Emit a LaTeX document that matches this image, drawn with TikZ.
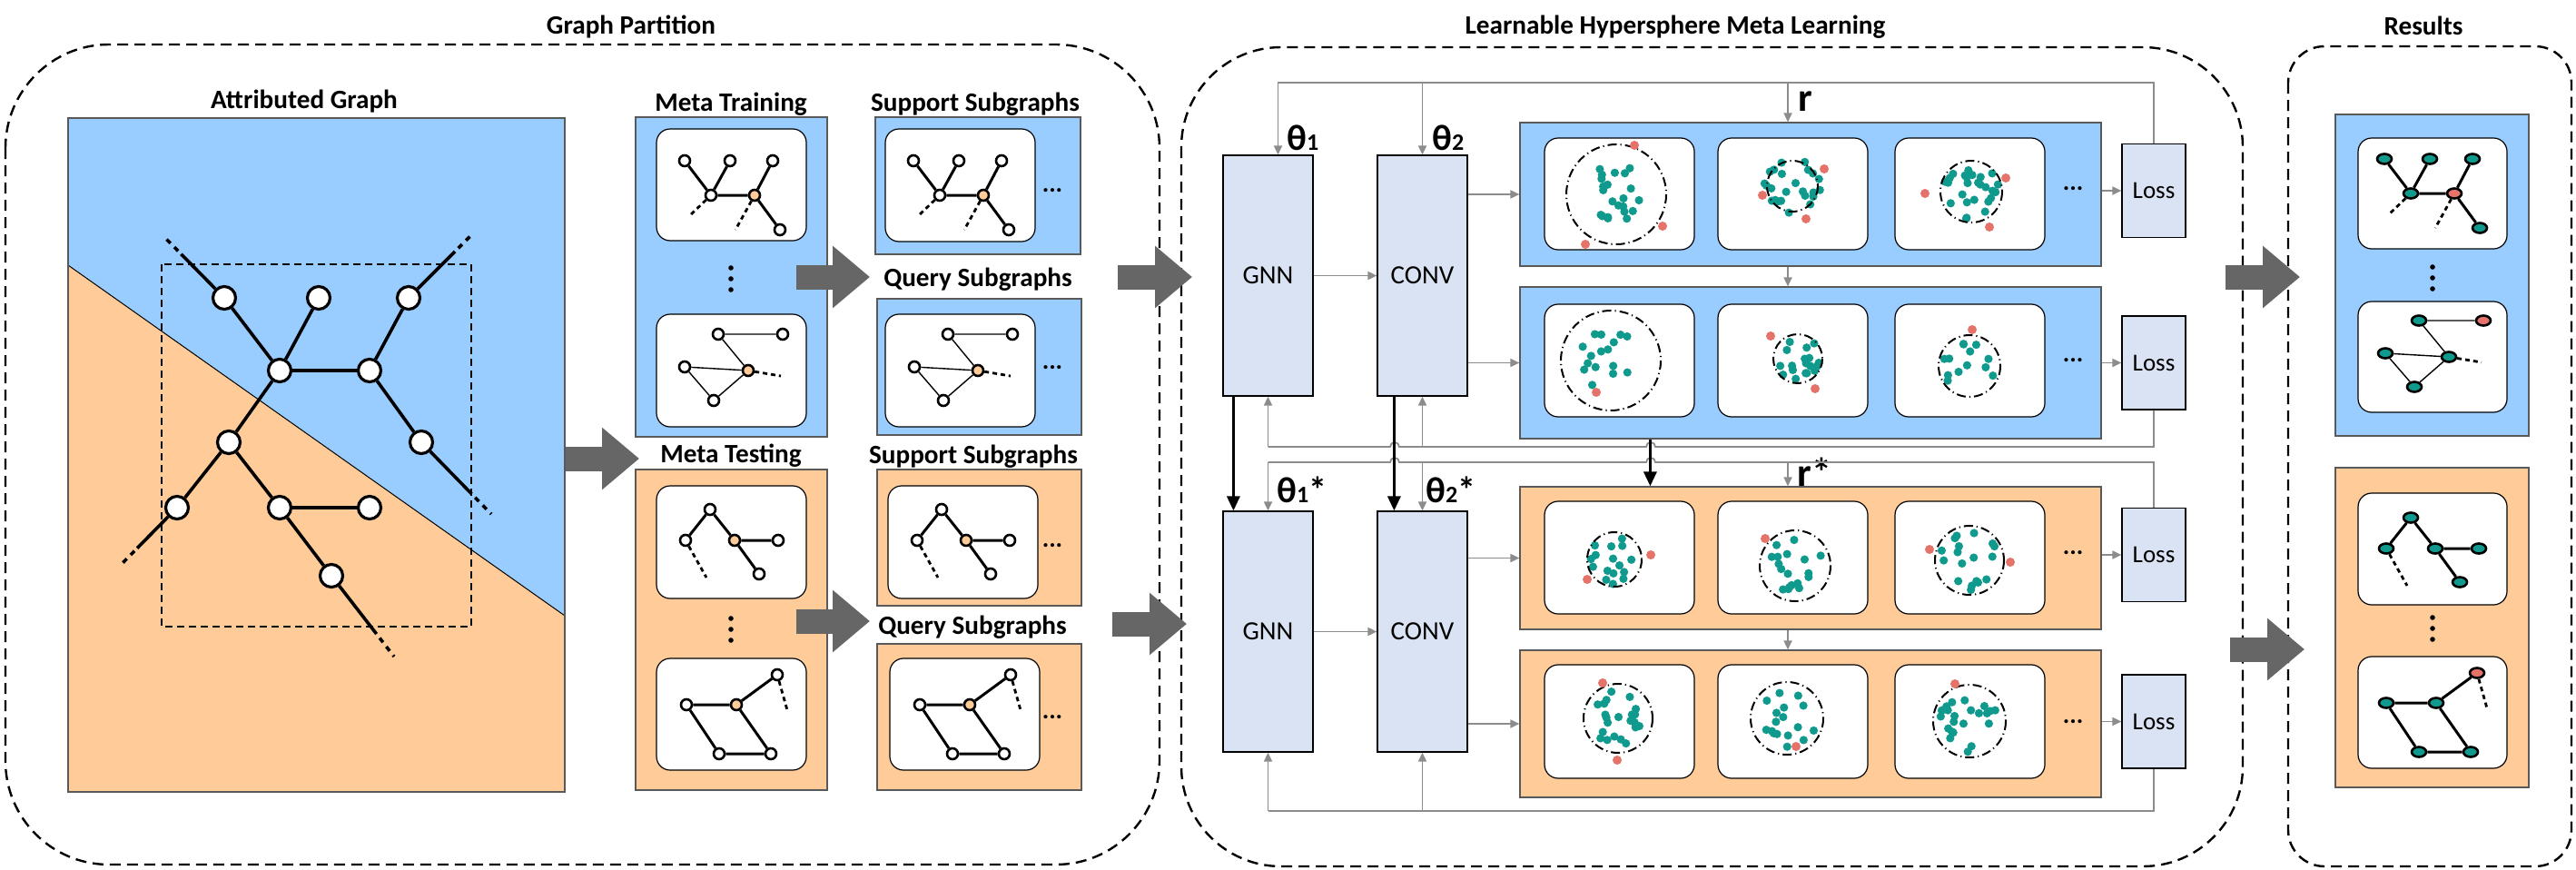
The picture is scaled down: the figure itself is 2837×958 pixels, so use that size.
\documentclass[tikz,border=0pt]{standalone}
\usepackage{fontspec}
\setmainfont{Carlito}
\usepackage{tikz}
\usetikzlibrary{arrows.meta,calc,positioning,shapes.geometric}
\definecolor{partblue}{HTML}{99CCFF}
\definecolor{partorange}{HTML}{FFCC99}
\definecolor{modfill}{HTML}{DAE3F3}
\definecolor{embteal}{HTML}{109A8E}
\definecolor{outred}{HTML}{E5736A}
\definecolor{bigarrow}{HTML}{666666}
\definecolor{flow}{HTML}{8C8C8C}
\definecolor{frame}{HTML}{595959}

% mini graphs: name, x, y of first vertex, vertex style, hub fill (, mark fill)
\newcommand{\subtree}[5]{%
  \begin{scope}[shift={(#2,#3)}]
    \node[#4] (#1a) at (0,0) {}; \node[#4] (#1b) at (50,0) {}; \node[#4] (#1c) at (97,0) {};
    \node[#4] (#1d) at (29,38) {}; \node[#4, fill=#5] (#1e) at (77,38) {}; \node[#4] (#1f) at (105,76) {};
    \draw[sedge] (#1a) -- (#1d) (#1b) -- (#1d) (#1d) -- (#1e) (#1c) -- (#1e) (#1e) -- (#1f);
    \draw[stail] (#1d) -- (5,61) (#1e) -- (56,76);
  \end{scope}}
\newcommand{\subloop}[6]{%
  \begin{scope}[shift={(#2,#3)}]
    \node[#4] (#1p) at (0,0) {}; \node[#4, fill=#6] (#1q) at (71,0) {}; \node[#4] (#1l) at (-37,36) {};
    \node[#4, fill=#5] (#1o) at (33,40) {}; \node[#4] (#1m) at (-5,73) {};
    \draw[sedge, line width=0.7pt] (#1p) -- (#1q) (#1p) -- (#1o) (#1l) -- (#1o) (#1l) -- (#1m) (#1m) -- (#1o);
    \draw[stail] (#1o) -- (69,46);
  \end{scope}}
\newcommand{\subpath}[5]{%
  \begin{scope}[shift={(#2,#3)}]
    \node[#4] (#1u) at (0,0) {}; \node[#4] (#1l) at (-27,34) {}; \node[#4, fill=#5] (#1o) at (27,34) {};
    \node[#4] (#1r) at (75,34) {}; \node[#4] (#1d) at (54,71) {};
    \draw[sedge] (#1l) -- (#1u) (#1u) -- (#1o) (#1o) -- (#1r) (#1o) -- (#1d);
    \draw[stail] (#1l) -- (-4,75);
  \end{scope}}
\newcommand{\subsquare}[6]{%
  \begin{scope}[shift={(#2,#3)}]
    \node[#4, fill=#6] (#1t) at (0,0) {}; \node[#4] (#1l) at (-100,33) {}; \node[#4, fill=#5] (#1o) at (-45,33) {};
    \node[#4] (#1x) at (-64,87) {}; \node[#4] (#1y) at (-7,87) {};
    \draw[sedge] (#1l) -- (#1o) (#1o) -- (#1t) (#1l) -- (#1x) (#1x) -- (#1y) (#1o) -- (#1y);
    \draw[stail] (#1t) -- (11,39);
  \end{scope}}
% hypersphere panel: cx, cy, sphere radius, cluster radius, dots, seed
\newcommand{\embed}[6]{%
  \pgfmathsetseed{#6}
  \foreach \k in {1,...,#5}{
    \pgfmathsetmacro{\embA}{360*rnd}
    \pgfmathsetmacro{\embR}{#4*sqrt(rnd)}
    \fill[embteal] ({#1+\embR*cos(\embA)},{#2+\embR*sin(\embA)}) circle (4.6);
  }
  \draw[sphere] (#1,#2) circle (#3);}

\begin{document}
\begin{tikzpicture}[x=0.5pt, y=-0.5pt, >={Triangle[length=5pt,width=4.5pt]}, font=\fontsize{14.5}{17}\selectfont,
  title/.style={font=\fontsize{14.6}{17}\selectfont\bfseries, anchor=base},
  group/.style={line width=1.2pt, dash pattern=on 6pt off 3.5pt},
  partbox/.style={draw=frame, line width=0.6pt},
  panel/.style={draw, fill=white, line width=0.6pt, rounded corners=7.5pt},
  module/.style={draw, fill=modfill, line width=0.6pt, inner sep=0pt},
  rowbox/.style={draw=frame, line width=0.6pt, minimum width=320pt, inner sep=0pt},
  vtx/.style={circle, draw, line width=1.6pt, fill=white, inner sep=0pt, minimum size=12.5pt},
  gedge/.style={line width=1.8pt},
  svtx/.style={circle, draw, line width=1.3pt, fill=white, inner sep=0pt, minimum size=6pt},
  rvtx/.style={ellipse, draw, line width=1.3pt, fill=embteal, inner sep=0pt, minimum width=8pt, minimum height=5.5pt},
  sedge/.style={line width=1.5pt},
  stail/.style={line width=1.4pt, dash pattern=on 2.5pt off 2pt},
  sphere/.style={line width=1pt, dash pattern=on 5pt off 2pt on 0.6pt off 2pt},
  fb/.style={draw=flow, line width=0.9pt},
  blk/.style={line width=1.6pt, -{Triangle[length=8pt,width=7pt]}},
  bigarr/.style={draw=bigarrow, line width=13.5pt, -{Triangle[length=20.5pt,width=33pt]}},
  theta/.style={font=\fontsize{20}{20}\selectfont\bfseries, anchor=base west, inner sep=0pt},
  ellip/.style={font=\fontsize{14}{14}\selectfont\bfseries}]
  \useasboundingbox (0,0) rectangle (2837,958);

  % groups
  \draw[group, rounded corners=57pt] (6,49) rectangle (1277,952);
  \draw[group, rounded corners=55pt] (1301,52) rectangle (2470,954);
  \draw[group, rounded corners=20pt] (2520,51) rectangle (2832,954);
  \node[title] at (695,38) {Graph Partition};
  \node[title] at (1845,38) {Learnable Hypersphere Meta Learning};
  \node[title] at (2669,39) {Results};

  % attributed graph
  \node[title] at (335,119) {Attributed Graph};
  \fill[partblue] (75,130) rectangle (622,872);
  \fill[partorange] (75,292) -- (622,678) -- (622,872) -- (75,872) -- cycle;
  \draw[line width=0.5pt] (75,292) -- (622,678);
  \draw[partbox] (75,130) rectangle (622,872);
  \draw[line width=0.7pt, dash pattern=on 4pt off 2.5pt] (178,291) rectangle (519,690);
  \node[vtx] (ga) at (247,328) {}; \node[vtx] (gb) at (351,328) {}; \node[vtx] (gc) at (450,328) {};
  \node[vtx] (gd) at (308,408) {}; \node[vtx] (ge) at (407,408) {};
  \node[vtx] (gf) at (252,487) {}; \node[vtx] (gg) at (464,487) {};
  \node[vtx] (gh) at (195,559) {}; \node[vtx] (gi) at (308,559) {}; \node[vtx] (gj) at (407,559) {};
  \node[vtx] (gk) at (365,634) {};
  \draw[gedge] (ga) -- (gd) (gb) -- (gd) (gd) -- (ge) (gc) -- (ge) (ge) -- (gg)
    (gd) -- (gf) (gf) -- (gh) (gf) -- (gi) (gi) -- (gj) (gi) -- (gk);
  \coordinate (ta) at (181,261); \coordinate (tc) at (521,257); \coordinate (tg) at (541,566);
  \coordinate (th) at (134,621); \coordinate (tk) at (434,723);
  \foreach \n/\t in {ga/ta, gc/tc, gg/tg, gh/th, gk/tk} {
    \draw[gedge] (\n) -- ($(\n)!0.72!(\t)$);
    \draw[gedge, dash pattern=on 3pt off 3pt] ($(\n)!0.77!(\t)$) -- (\t);
  }

  % meta training / testing
  \node[title] at (805,122) {Meta Training};
  \node[title] at (805,509) {Meta Testing};
  \draw[partbox, fill=partblue] (700,129) rectangle (911,481);
  \draw[partbox, fill=partorange] (700,517) rectangle (911,870);
  \draw[panel] (723,142) rectangle (888,265); \draw[panel] (723,346) rectangle (888,470);
  \draw[panel] (723,535) rectangle (888,659); \draw[panel] (723,725) rectangle (888,848);
  \subtree{mt1}{754}{177}{svtx}{partorange}
  \subloop{mt2}{791}{368}{svtx}{partorange}{white}
  \subpath{me1}{782}{561}{svtx}{partorange}
  \subsquare{me2}{856}{743}{svtx}{partorange}{white}
  \foreach \dy in {0,12,24} {
    \fill (805,{295+\dy}) circle (2.8); \fill (805,{681+\dy}) circle (2.8);
  }

  % support / query
  \node[title] at (1074,122) {Support Subgraphs};
  \node[title] at (1077,315) {Query Subgraphs};
  \node[title] at (1072,510) {Support Subgraphs};
  \node[title] at (1071,698) {Query Subgraphs};
  \draw[partbox, fill=partblue] (964,129) rectangle (1190,280);
  \draw[partbox, fill=partblue] (966,329) rectangle (1191,479);
  \draw[partbox, fill=partorange] (966,517) rectangle (1191,667);
  \draw[partbox, fill=partorange] (966,709) rectangle (1191,870);
  \draw[panel] (975,142) rectangle (1140,266); \draw[panel] (975,346) rectangle (1140,470);
  \draw[panel] (978,535) rectangle (1143,659); \draw[panel] (980,725) rectangle (1145,848);
  \subtree{sp1}{1006}{177}{svtx}{partorange}
  \subloop{qy1}{1044}{368}{svtx}{partorange}{white}
  \subpath{sp2}{1037}{561}{svtx}{partorange}
  \subsquare{qy2}{1113}{743}{svtx}{partorange}{white}
  \foreach \y in {210,405,601,790} \node[ellip] at (1159,\y) {...};

  % learnable hypersphere
  \node[module, minimum width=49.5pt, minimum height=132.5pt] (gnn1) at (1396.5,303.5) {GNN};
  \node[module, minimum width=49.5pt, minimum height=132.5pt] (conv1) at (1566.5,303.5) {CONV};
  \node[module, minimum width=49.5pt, minimum height=132.5pt] (gnn2) at (1396.5,695.5) {GNN};
  \node[module, minimum width=49.5pt, minimum height=132.5pt] (conv2) at (1566.5,695.5) {CONV};
  \node[rowbox, fill=partblue, minimum height=79pt] (row1) at (1994,214) {};
  \node[rowbox, fill=partblue, minimum height=83.5pt] (row2) at (1994,399.5) {};
  \node[rowbox, fill=partorange, minimum height=78.5pt] (row3) at (1994,614.5) {};
  \node[rowbox, fill=partorange, minimum height=81pt] (row4) at (1994,797) {};
  \foreach \y/\h in {152/275, 335/459, 552/676, 732/857}
    \foreach \x in {1701,1892,2087} \draw[panel] (\x,\y) rectangle ({\x+165},\h);
  \embed{1780}{214}{55}{34}{22}{11}
  \embed{1974}{205}{28}{31}{24}{12}
  \embed{2171}{211}{34}{31}{26}{13}
  \embed{1774}{397}{55}{36}{16}{21}
  \embed{1980}{395}{27}{26}{18}{22}
  \embed{2169}{403}{34}{29}{13}{23}
  \embed{1778}{616}{30}{28}{16}{31}
  \embed{1977}{623}{39}{31}{18}{32}
  \embed{2169}{617}{38}{33}{18}{33}
  \embed{1782}{791}{38}{31}{22}{41}
  \embed{1968}{791}{40}{33}{17}{42}
  \embed{2169}{794}{40}{34}{22}{43}
  \foreach \p in {(1800,160),(1831,249),(1746,269),(2009,186),(1941,215),(1989,241),(2209,196),(2120,213),(2191,250),
      (1758,432),(1950,370),(1999,428),(2172,363),(1818,611),(1748,638),(1944,593),(2125,605),(2214,619),
      (1765,752),(1781,837),(1978,822),(2153,753)}
    \fill[outred] \p circle (5);
  \foreach \y in {208,397,609,795} \node[ellip] at (2283,\y) {...};
  \node[module, minimum width=35pt, minimum height=51.5pt, font=\fontsize{13.5}{15}\selectfont] (loss1) at (2372,210) {Loss};
  \node[module, minimum width=35pt, minimum height=51.5pt, font=\fontsize{13.5}{15}\selectfont] (loss2) at (2372,399.5) {Loss};
  \node[module, minimum width=35pt, minimum height=51.5pt, font=\fontsize{13.5}{15}\selectfont] (loss3) at (2372,611) {Loss};
  \node[module, minimum width=35pt, minimum height=51.5pt, font=\fontsize{13.5}{15}\selectfont] (loss4) at (2372,794.5) {Loss};

  \node[theta] at (1417,165) {θ{\fontsize{13}{13}\selectfont 1}};
  \node[theta] at (1577,165) {θ{\fontsize{13}{13}\selectfont 2}};
  \node[theta] at (1406,553) {θ{\fontsize{13}{13}\selectfont 1}*};
  \node[theta] at (1570,553) {θ{\fontsize{13}{13}\selectfont 2}*};
  \node[theta, font=\fontsize{22}{22}\selectfont\bfseries] at (1980,122) {r};
  \node[theta, font=\fontsize{22}{22}\selectfont\bfseries] at (1979,535) {r*};

  \coordinate (fb1) at (0,91); \coordinate (fb2) at (0,492);
  \coordinate (fb3) at (0,509); \coordinate (fb4) at (0,893);
  \coordinate (rx) at (1969,0);
  \coordinate (g1in) at ([xshift=5.5pt]gnn1.north);
  \draw[fb,->] (gnn1) -- (conv1);
  \draw[fb,->] (gnn2) -- (conv2);
  \foreach \r in {1,2} {
    \draw[fb,->] (conv1.east |- row\r.west) -- (row\r.west);
  }
  \foreach \r in {3,4} {
    \draw[fb,->] (conv2.east |- row\r.west) -- (row\r.west);
  }
  \foreach \r in {1,2,3,4} {
    \draw[fb,->] (row\r.east |- loss\r.west) -- (loss\r.west);
  }
  \draw[fb,->] (rx |- row1.south) -- (rx |- row2.north);
  \draw[fb,->] (rx |- row3.south) -- (rx |- row4.north);
  \draw[fb,->] (loss1.north) |- (g1in |- fb1) -- (g1in);
  \draw[fb,->] (conv1.north |- fb1) -- (conv1.north);
  \draw[fb,->] (rx |- fb1) -- (rx |- row1.north);
  \draw[fb] (loss2.south) |- (1823,492) arc[start angle=0, end angle=180, radius=2.5pt]
    -- (1541,492) arc[start angle=0, end angle=180, radius=2.5pt] -- (gnn1.south |- fb2);
  \draw[fb,->] (gnn1.south |- fb2) -- (gnn1.south);
  \draw[fb,->] (conv1.south |- fb2) -- (conv1.south);
  \draw[fb] (loss3.north) |- (1823,509) arc[start angle=0, end angle=180, radius=2.5pt]
    -- (1541,509) arc[start angle=0, end angle=180, radius=2.5pt] -- (gnn2.north |- fb3);
  \draw[fb,->] (gnn2.north |- fb3) -- (gnn2.north);
  \draw[fb,->] (conv2.north |- fb3) -- (conv2.north);
  \draw[fb,->] (rx |- fb3) -- (rx |- row3.north);
  \draw[fb] (loss4.south) |- (gnn2.south |- fb4);
  \draw[fb,->] (gnn2.south |- fb4) -- (gnn2.south);
  \draw[fb,->] (conv2.south |- fb4) -- (conv2.south);
  \draw[blk] ([xshift=6pt]gnn1.south west) -- ([xshift=6pt]gnn2.north west);
  \draw[blk] ([xshift=9.5pt]conv1.south west) -- ([xshift=9.5pt]conv2.north west);
  \draw[blk] ([xshift=72pt]row2.south west) -- ([xshift=72pt]row3.north west);

  % results
  \draw[partbox, fill=partblue] (2572,126) rectangle (2785,480);
  \draw[partbox, fill=partorange] (2572,515) rectangle (2785,867);
  \draw[panel] (2597,152) rectangle (2761,274); \draw[panel] (2597,332) rectangle (2761,454);
  \draw[panel] (2597,543) rectangle (2761,666); \draw[panel] (2597,723) rectangle (2761,846);
  \subtree{rs1}{2626}{175}{rvtx}{outred}
  \subloop{rs2}{2664}{353}{rvtx}{embteal}{outred}
  \subpath{rs3}{2655}{570}{rvtx}{embteal}
  \subsquare{rs4}{2728}{741}{rvtx}{embteal}{outred}
  \foreach \dy in {0,12,24} {
    \fill (2679,{294+\dy}) circle (2.8); \fill (2679,{680+\dy}) circle (2.8);
  }

  % big arrows
  \coordinate (a1s) at (623,505);  \coordinate (a1e) at (704,505);
  \coordinate (a2s) at (877,305);  \coordinate (a2e) at (958,305);
  \coordinate (a3s) at (877,684);  \coordinate (a3e) at (958,684);
  \coordinate (a4s) at (1231,305); \coordinate (a4e) at (1313,305);
  \coordinate (a5s) at (1225,687); \coordinate (a5e) at (1307,687);
  \coordinate (a6s) at (2451,305); \coordinate (a6e) at (2533,305);
  \coordinate (a7s) at (2456,715); \coordinate (a7e) at (2538,715);
  \foreach \i in {1,...,7} \draw[bigarr] (a\i s) -- (a\i e);
\end{tikzpicture}
\end{document}
